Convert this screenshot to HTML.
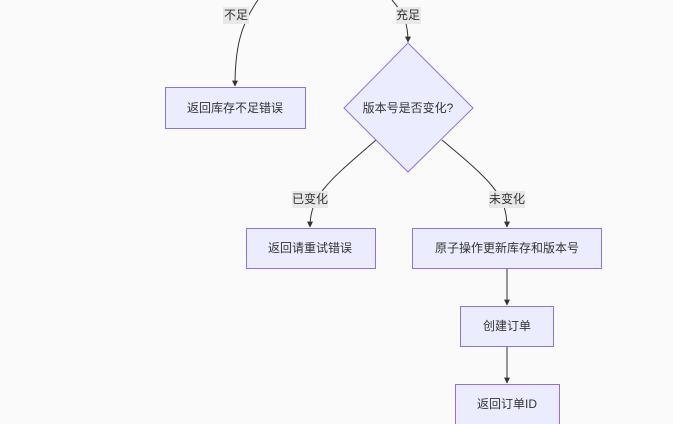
<!DOCTYPE html>
<html><head><meta charset="utf-8"><style>
html,body{margin:0;padding:0;background:#fafafa;}
svg{display:block;font-family:"Liberation Sans","Noto Sans CJK SC",sans-serif;}
</style></head><body>
<svg width="673" height="424" viewBox="0 0 673 424" xmlns="http://www.w3.org/2000/svg">
<defs><marker id="a" viewBox="0 0 10 10" refX="9" refY="5" markerWidth="6" markerHeight="6" orient="auto"><path d="M0,0L10,5L0,10z" fill="#333"/></marker></defs>
<g fill="none" stroke="#333" stroke-width="1">
<path d="M258,0 C240,25 235,50 235,86" marker-end="url(#a)"/>
<path d="M392,0 C405,15 408,25 408,42" marker-end="url(#a)"/>
<path d="M376,140 C330,180 310,195 310,227" marker-end="url(#a)"/>
<path d="M442,140 C490,180 507,195 507,227" marker-end="url(#a)"/>
<path d="M507,268 L507,305" marker-end="url(#a)"/>
<path d="M507,346 L507,383" marker-end="url(#a)"/>
</g>
<g fill="#ececff" stroke="#9370db" stroke-width="1">
<rect x="165.5" y="87.5" width="140" height="41"/>
<polygon points="408,43 473,108 408,172 344,108"/>
<rect x="246.5" y="228.5" width="129" height="40"/>
<rect x="412.5" y="228.5" width="189" height="40"/>
<rect x="460.5" y="306.5" width="93" height="40"/>
<rect x="455.5" y="384.5" width="104" height="44"/>
</g>
<g fill="#e8e8e8">
<rect x="223" y="7" width="26" height="17"/>
<rect x="396" y="7" width="25" height="17"/>
<rect x="292" y="191" width="36" height="17"/>
<rect x="489" y="191" width="36" height="17"/>
</g>
<g font-size="12" fill="#333" text-anchor="middle" dominant-baseline="central">
<text x="236" y="15">不足</text>
<text x="408" y="15">充足</text>
<text x="310" y="199">已变化</text>
<text x="507" y="199">未变化</text>
<text x="235" y="108">返回库存不足错误</text>
<text x="408" y="108">版本号是否变化?</text>
<text x="310" y="248">返回请重试错误</text>
<text x="507" y="248">原子操作更新库存和版本号</text>
<text x="507" y="326">创建订单</text>
<text x="507" y="404">返回订单ID</text>
</g>
</svg>
</body></html>
